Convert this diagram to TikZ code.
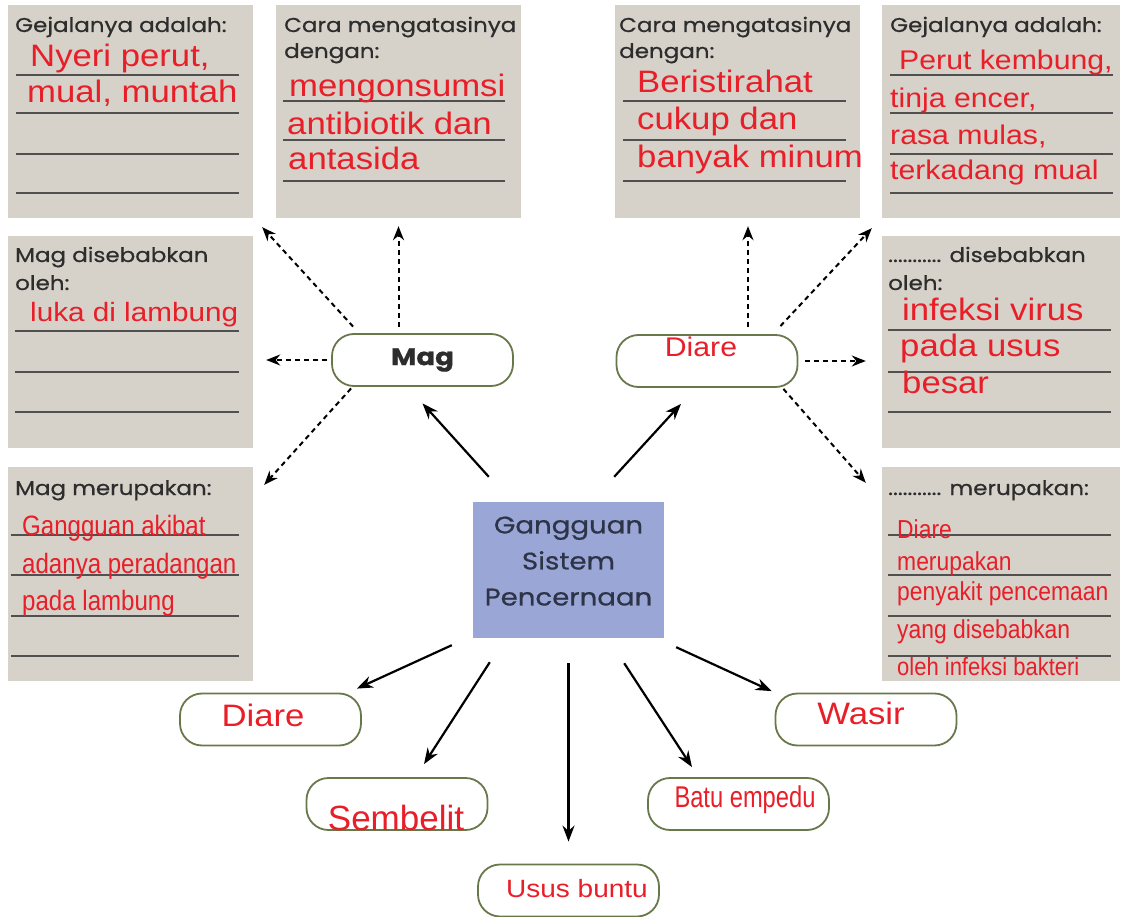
\documentclass[tikz,border=0pt]{standalone}
\usepackage{fontspec}
\setmainfont{Poppins}
\newfontfamily\headfont{Poppins}[FakeStretch=1.15,FakeBold=0.6]
\newfontfamily\redfont{Liberation Sans}[FakeStretch=1.12]
\newfontfamily\redplain{Liberation Sans}
\newfontfamily\rednarrow{Liberation Sans}[FakeStretch=0.86]
\newfontfamily\redslim{Liberation Sans}[FakeStretch=0.79]
\newfontfamily\redmid{Liberation Sans}[FakeStretch=0.88]
\usetikzlibrary{arrows.meta}
\definecolor{boxgray}{RGB}{214,209,201}
\definecolor{rulegray}{RGB}{80,80,80}
\definecolor{headgray}{RGB}{45,45,45}
\definecolor{ansred}{RGB}{232,30,40}
\definecolor{pilledge}{RGB}{105,120,75}
\definecolor{topicblue}{RGB}{154,166,214}
\definecolor{topictext}{RGB}{45,52,72}

\begin{document}
\begin{tikzpicture}[x=1pt,y=-1pt]
        \tikzstyle{card}=[fill=boxgray, inner sep=0pt, minimum width=245pt, minimum height=213pt]
        \tikzstyle{ruleline}=[draw=rulegray, line width=1.8pt]
        \tikzstyle{head}=[anchor=base west, inner sep=0pt, text=headgray, font=\headfont\fontsize{20}{24}\selectfont]
        \tikzstyle{ans}=[anchor=base west, inner sep=0pt, text=ansred, font=\redfont\fontsize{31}{36}\selectfont]
        \tikzstyle{pill}=[draw=pilledge, line width=1.8pt, rounded corners=22pt, minimum width=181pt, minimum height=52pt, inner sep=0pt]
        \tikzstyle{pilltext}=[inner sep=0pt, text=ansred, font=\redfont\fontsize{31}{36}\selectfont]
        \tikzstyle{solidarrow}=[-{Stealth[length=16pt,width=12pt]}, line width=2.2pt]
        \tikzstyle{dasharrow}=[-{Stealth[length=14pt,width=11pt]}, line width=2pt, dash pattern=on 5pt off 4pt]
        \fill[white] (0,0) rectangle (1125,917);
        \useasboundingbox (0,0) rectangle (1125,917);

        \node[card] (tlone) at (130.5,111.5) {};
        \node[card] (tltwo) at (398.5,111.5) {};
        \node[card] (trone) at (737,111.5) {};
        \node[card, minimum width=238pt] (trtwo) at (1001,111.5) {};
        \node[card, minimum height=212pt] (mlbox) at (130.5,342) {};
        \node[card, minimum height=214pt] (blbox) at (130.5,574) {};
        \node[card, minimum width=238pt, minimum height=212pt] (mrbox) at (1001,342) {};
        \node[card, minimum width=238pt, minimum height=214pt] (brbox) at (1001,574) {};

        \foreach \y in {75,113,154,193} \draw[ruleline] (16,\y) -- (239,\y);
        \foreach \y in {101,140,181} \draw[ruleline] (283,\y) -- (505,\y);
        \foreach \y in {101,140,181} \draw[ruleline] (623,\y) -- (846,\y);
        \foreach \y in {75,113,154,193} \draw[ruleline] (890,\y) -- (1113,\y);
        \foreach \y in {331,372,412} \draw[ruleline] (15,\y) -- (239,\y);
        \foreach \y in {535,575,616,656} \draw[ruleline] (11,\y) -- (239,\y);
        \foreach \y in {330,372,412} \draw[ruleline] (888,\y) -- (1111,\y);
        \foreach \y in {535,575,616,656} \draw[ruleline] (888,\y) -- (1111,\y);

        \node[head] (tlonehead) at (15,32) {Gejalanya adalah:};
        \node[head] (tltwohead) at (284,32) {Cara mengatasinya};
        \node[head] (tltwoheadb) at (284,58) {dengan:};
        \node[head] (tronehead) at (619,32) {Cara mengatasinya};
        \node[head] (troneheadb) at (619,58) {dengan:};
        \node[head] (trtwohead) at (890,32) {Gejalanya adalah:};
        \node[head] (mlhead) at (15,262) {Mag disebabkan};
        \node[head] (mlheadb) at (15,290) {oleh:};
        \node[head] (blhead) at (15,495) {Mag merupakan:};
        \node[head] (mrhead) at (888,262) {........... disebabkan};
        \node[head] (mrheadb) at (888,290) {oleh:};
        \node[head] (brhead) at (888,495) {........... merupakan:};

        \node[ans] (tlonea) at (30,67) {Nyeri perut,};
        \node[ans] (tloneb) at (27,103) {mual, muntah};
        \node[ans] (tltwoa) at (289,97) {mengonsumsi};
        \node[ans] (tltwob) at (287,135) {antibiotik dan};
        \node[ans] (tltwoc) at (288,170) {antasida};
        \node[ans] (tronea) at (637,93) {Beristirahat};
        \node[ans] (troneb) at (637,130) {cukup dan};
        \node[ans] (tronec) at (637,168) {banyak minum};
        \node[ans, font=\redfont\fontsize{27}{32}\selectfont] (trtwoa) at (899,70) {Perut kembung,};
        \node[ans, font=\redfont\fontsize{27}{32}\selectfont] (trtwob) at (890,108) {tinja encer,};
        \node[ans, font=\redfont\fontsize{27}{32}\selectfont] (trtwoc) at (890,145) {rasa mulas,};
        \node[ans, font=\redfont\fontsize{27}{32}\selectfont] (trtwod) at (890,180) {terkadang mual};
        \node[ans, font=\redfont\fontsize{26.5}{32}\selectfont] (mla) at (30,322) {luka di lambung};
        \node[ans] (mra) at (902,321) {infeksi virus};
        \node[ans] (mrb) at (900,357) {pada usus};
        \node[ans] (mrc) at (902,393) {besar};
        \node[ans, font=\rednarrow\fontsize{28}{32}\selectfont] (bla) at (22,535) {Gangguan akibat};
        \node[ans, font=\rednarrow\fontsize{28}{32}\selectfont] (blb) at (22,573) {adanya peradangan};
        \node[ans, font=\rednarrow\fontsize{28}{32}\selectfont] (blc) at (22,610) {pada lambung};
        \node[ans, font=\redmid\fontsize{26}{30}\selectfont] (bra) at (897,538) {Diare};
        \node[ans, font=\redmid\fontsize{26}{30}\selectfont] (brb) at (897,570) {merupakan};
        \node[ans, font=\redmid\fontsize{26}{30}\selectfont] (brc) at (897,600) {penyakit pencemaan};
        \node[ans, font=\redmid\fontsize{26}{30}\selectfont] (brd) at (897,638) {yang disebabkan};
        \node[ans, font=\redmid\fontsize{25}{30}\selectfont] (bre) at (897,675) {oleh infeksi bakteri};

        \node[fill=topicblue, minimum width=191pt, minimum height=136pt, align=center, text=topictext, text depth=18pt, font=\headfont\fontsize{24}{36}\selectfont] (gsp) at (568.5,570) {Gangguan\\Sistem\\Pencernaan};

        \node[pill, font=\headfont\bfseries\fontsize{24}{30}\selectfont, text=headgray] (mag) at (422.5,360) {Mag};
        \node[pill] (diaretop) at (707,361) {};
        \node[pilltext, font=\redfont\fontsize{27}{32}\selectfont] (diaretoptxt) at (701,347) {Diare};
        \node[pill] (diarebot) at (270.5,719.5) {};
        \node[pilltext] (diarebottxt) at (263,715) {Diare};
        \node[pill] (sembelit) at (397,804) {};
        \node[pilltext, font=\redplain\fontsize{35}{40}\selectfont] (sembelittxt) at (396,818) {Sembelit};
        \node[pill] (usus) at (568.5,890.5) {};
        \node[pilltext, font=\redfont\fontsize{25}{30}\selectfont] (usustxt) at (577,889) {Usus buntu};
        \node[pill] (batu) at (738.5,804) {};
        \node[pilltext, font=\redslim\fontsize{30}{34}\selectfont] (batutxt) at (745,800) {Batu empedu};
        \node[pill] (wasir) at (866,719.5) {};
        \node[pilltext] (wasirtxt) at (861,713) {Wasir};

        \draw[dasharrow] ([xshift=22pt,yshift=6.5pt]mag.north west) -- ([xshift=9pt,yshift=-9pt]tlone.south east);
        \draw[dasharrow, shorten <=6.5pt, shorten >=8pt] (mag.north -| tltwo.south) -- (tltwo.south);
        \draw[dasharrow, shorten <=4pt, shorten >=13pt] (mag.west) -- (mlbox.east |- mag.west);
        \draw[dasharrow] ([xshift=20pt,yshift=-1.5pt]mag.south west) -- ([xshift=11pt,yshift=-18pt]blbox.north east);
        \draw[dasharrow, shorten <=7pt, shorten >=8pt] ([xshift=11pt]trone.south |- diaretop.north) -- ([xshift=11pt]trone.south);
        \draw[dasharrow] ([xshift=-18pt,yshift=8pt]diaretop.north east) -- ([xshift=-10pt,yshift=-10pt]trtwo.south west);
        \draw[dasharrow, shorten <=7pt, shorten >=16pt] (diaretop.east) -- (mrbox.west |- diaretop.east);
        \draw[dasharrow] ([xshift=-15pt,yshift=-1pt]diaretop.south east) -- ([xshift=-16pt,yshift=-16pt]brbox.north west);

        \draw[solidarrow] ([xshift=16pt,yshift=25pt]gsp.north west) -- ([yshift=-16.5pt]mag.south);
        \draw[solidarrow] ([xshift=-50pt,yshift=25pt]gsp.north east) -- ([xshift=-26pt,yshift=-16pt]diaretop.south);
        \draw[solidarrow] ([xshift=-21pt,yshift=-7pt]gsp.south west) -- ([xshift=-5pt,yshift=4pt]diarebot.north east);
        \draw[solidarrow] ([xshift=17pt,yshift=-24pt]gsp.south west) -- ([xshift=27pt,yshift=13pt]sembelit.north);
        \draw[solidarrow, shorten <=25pt, shorten >=22pt] (gsp.south) -- (usus.north);
        \draw[solidarrow] ([xshift=-40pt,yshift=-25pt]gsp.south east) -- ([xshift=-46.5pt,yshift=10pt]batu.north);
        \draw[solidarrow] ([xshift=12pt,yshift=-9pt]gsp.south east) -- ([xshift=-3pt,yshift=1.5pt]wasir.north west);
      \end{tikzpicture}
\end{document}
